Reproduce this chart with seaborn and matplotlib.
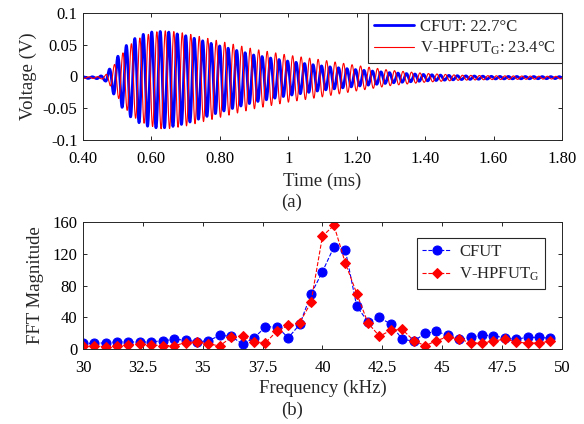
import numpy as np
import matplotlib
matplotlib.use("Agg")
import matplotlib.pyplot as plt
import seaborn as sns

# --- (a) time-domain envelopes (ms, V) ---
env_t = [0.40, 0.44, 0.455, 0.465, 0.475, 0.49, 0.51, 0.53, 0.55, 0.575, 0.60,
         0.625, 0.65, 0.70, 0.80, 0.90, 1.00, 1.10, 1.20, 1.30, 1.40, 1.50, 1.60, 1.80]
cfut_env = [0.001, 0.0015, 0.003, 0.005, 0.012, 0.025, 0.042, 0.055, 0.064, 0.071, 0.075,
            0.076, 0.075, 0.069, 0.052, 0.037, 0.027, 0.019, 0.013, 0.008, 0.005, 0.003, 0.002, 0.0015]
hpfut_env = [0.001, 0.0015, 0.002, 0.004, 0.009, 0.020, 0.036, 0.050, 0.060, 0.068, 0.073,
             0.077, 0.077, 0.073, 0.060, 0.047, 0.037, 0.029, 0.020, 0.012, 0.007, 0.004, 0.003, 0.002]
carrier_khz = 40.3
cfut_peak_ms = 0.601
hpfut_peak_ms = 0.591

# --- (b) FFT magnitudes ---
freq_khz = [30.0, 30.48, 30.95, 31.43, 31.9, 32.38, 32.86, 33.33, 33.81, 34.29, 34.76,
            35.24, 35.71, 36.19, 36.67, 37.14, 37.62, 38.1, 38.57, 39.05, 39.52,
            40.0, 40.48, 40.95, 41.43, 41.9, 42.38, 42.86, 43.33, 43.81, 44.29,
            44.76, 45.24, 45.71, 46.19, 46.67, 47.14, 47.62, 48.1, 48.57, 49.05, 49.52]
cfut_fft = [7.5, 7.5, 8.3, 9.5, 9.5, 9.0, 9.5, 10.8, 12.5, 11.7, 9.5, 10.8, 17.5, 16.5,
            6.3, 14.5, 28.0, 28.5, 14.5, 31.3, 69.0, 97.5, 128.5, 125.0, 54.0, 34.5,
            40.0, 31.5, 12.5, 10.5, 20.0, 22.5, 17.5, 12.7, 15.0, 18.0, 17.0, 14.5,
            13.0, 15.0, 15.0, 14.0]
hpfut_fft = [4.1, 4.1, 3.5, 4.8, 5.4, 6.6, 5.4, 4.8, 4.8, 8.3, 9.5, 6.7, 4.5, 15.0,
             17.0, 9.5, 8.3, 23.0, 30.0, 33.5, 59.0, 142.0, 155.5, 108.5, 70.0, 33.0,
             16.5, 24.0, 25.0, 11.0, 4.5, 11.0, 15.8, 12.7, 8.5, 7.5, 10.8, 12.5,
             9.5, 7.5, 8.3, 10.0]

sns.set_style("ticks")
plt.rcParams["font.family"] = ["Liberation Serif", "DejaVu Serif"]
plt.rcParams["mathtext.default"] = "regular"

fig = plt.figure(figsize=(5.84, 4.24), dpi=100)
ax1 = fig.add_axes([0.1421, 0.670, 0.8202, 0.300])
ax2 = fig.add_axes([0.1421, 0.176, 0.8202, 0.301])

# waveform: envelope
t = np.linspace(0.40, 1.80, 4000)
def burst(env, t_peak):
    a = np.interp(t, env_t, env)
    return -0.002 + a * (np.cos(2 * np.pi * carrier_khz * (t - t_peak)) - 0.045)

sns.lineplot(x=t, y=burst(cfut_env, cfut_peak_ms), ax=ax1, color="blue", lw=2.0,
             estimator=None, sort=False, label="CFUT: 22.7°C")
sns.lineplot(x=t, y=burst(hpfut_env, hpfut_peak_ms), ax=ax1, color="red", lw=0.8,
             estimator=None, sort=False, label="V-HPFUT$_G$: 23.4°C")
ax1.set_xlim(0.40, 1.80)
ax1.set_ylim(-0.1, 0.1)
ax1.set_xticks([0.4, 0.6, 0.8, 1.0, 1.2, 1.4, 1.6, 1.8])
ax1.set_xticklabels(["0.40", "0.60", "0.80", "1", "1.20", "1.40", "1.60", "1.80"])
ax1.set_yticks([-0.1, -0.05, 0, 0.05, 0.1])
ax1.set_yticklabels(["-0.1", "-0.05", "0", "0.05", "0.1"])
ax1.set_xlabel("Time (ms)", fontsize=13.5, labelpad=4)
ax1.set_ylabel("Voltage (V)", fontsize=13.5, labelpad=4)
leg1 = ax1.legend(loc="upper right", bbox_to_anchor=(1, 1), borderaxespad=0,
                  fontsize=12, frameon=True, fancybox=False, handlelength=2.4,
                  handletextpad=0.4, borderpad=0.35, labelspacing=0.3)

sns.lineplot(x=freq_khz, y=cfut_fft, ax=ax2, color="blue", lw=0.8, linestyle="--",
             marker="o", markersize=6.5, markeredgecolor="blue", label="CFUT")
sns.lineplot(x=freq_khz, y=hpfut_fft, ax=ax2, color="red", lw=0.8, linestyle="--",
             marker="D", markersize=5.5, markeredgecolor="red", label="V-HPFUT$_G$")
ax2.set_xlim(30, 50)
ax2.set_ylim(0, 160)
ax2.set_xticks([30, 32.5, 35, 37.5, 40, 42.5, 45, 47.5, 50])
ax2.set_xticklabels(["30", "32.5", "35", "37.5", "40", "42.5", "45", "47.5", "50"])
ax2.set_yticks([0, 40, 80, 120, 160])
ax2.set_xlabel("Frequency (kHz)", fontsize=13.5, labelpad=2)
ax2.set_ylabel("FFT Magnitude", fontsize=13.5, labelpad=6)
leg2 = ax2.legend(loc="upper right", bbox_to_anchor=(0.965, 0.875), borderaxespad=0,
                  fontsize=12, frameon=True, fancybox=False, handlelength=1.7,
                  handletextpad=0.5, borderpad=0.35, labelspacing=0.35)

for ax in (ax1, ax2):
    ax.tick_params(direction="in", top=True, right=True, labelsize=12, length=3,
                   width=0.7, colors="0.15", labelcolor="black")
    ax.tick_params(axis="x", pad=8)
    ax.tick_params(axis="y", pad=4)
    for s in ax.spines.values():
        s.set_visible(True)
        s.set_color("0.15")
        s.set_linewidth(0.7)
for leg in (leg1, leg2):
    leg.get_frame().set_edgecolor("0.15")
    leg.get_frame().set_linewidth(0.8)
    leg.get_frame().set_alpha(1)

fig.text(0.5, 1 - 202 / 424, "(a)", ha="center", va="center", fontsize=13.5)
fig.text(0.5, 1 - 410 / 424, "(b)", ha="center", va="center", fontsize=13.5)

fig.savefig("out.png", dpi=100)
